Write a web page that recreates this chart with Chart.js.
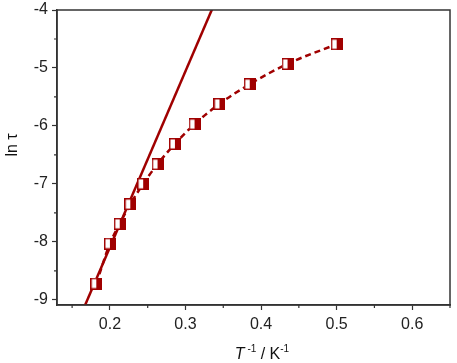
<!DOCTYPE html>
<html>
<head>
<meta charset="utf-8">
<script src="https://cdn.jsdelivr.net/npm/chart.js@4.4.0/dist/chart.umd.min.js"></script>
<style>
  html,body{margin:0;padding:0;background:#fff;}
  #wrap{width:457px;height:363px;}
</style>
</head>
<body>
<div id="wrap"><canvas id="c" width="457" height="363"></canvas></div>
<script>
/* ── data ── */
const invT   = [0.182,0.200,0.213,0.227,0.244,0.263,0.286,0.312,0.345,0.385,0.435,0.500];
const lnTau  = [-8.72,-8.03,-7.69,-7.35,-7.00,-6.66,-6.31,-5.97,-5.62,-5.28,-4.93,-4.59];
const fitX   = [0.160,0.340];
const fitY   = [-9.31,-3.84];
const xTicks = [0.2,0.3,0.4,0.5,0.6];
const xMinor = [0.15,0.25,0.35,0.45,0.55,0.65];
const yTicks = [-9,-8,-7,-6,-5,-4];
const yMinor = [-8.5,-7.5,-6.5,-5.5,-4.5];

const RED='#a00000', AX='#333333', FONT='"Liberation Sans", Arial, sans-serif';

/* half-filled square marker */
function halfSquare(){
  const s=12, cv=document.createElement('canvas');
  cv.width=s;cv.height=s;
  const g=cv.getContext('2d');
  g.fillStyle='#fff';g.fillRect(0,0,s,s);
  g.fillStyle=RED;g.fillRect(s/2,0,s/2,s);
  g.strokeStyle=RED;g.lineWidth=1.5;g.strokeRect(0.75,0.75,s-1.5,s-1.5);
  return cv;
}
const marker=halfSquare();

const pts=invT.map((x,i)=>({x,y:lnTau[i]}));
const fit=fitX.map((x,i)=>({x,y:fitY[i]}));

/* frame, minor ticks, axis titles */
const extras={
  id:'extras',
  afterDraw(chart){
    const {ctx,chartArea:a,scales:{x,y}}=chart;
    ctx.save();
    ctx.strokeStyle=AX;ctx.lineWidth=1.5;
    ctx.strokeRect(a.left,a.top,a.right-a.left,a.bottom-a.top);
    ctx.lineWidth=1.2;
    ctx.beginPath();
    xMinor.forEach(v=>{const p=x.getPixelForValue(v);ctx.moveTo(p,a.bottom);ctx.lineTo(p,a.bottom+3);});
    yMinor.forEach(v=>{const p=y.getPixelForValue(v);ctx.moveTo(a.left,p);ctx.lineTo(a.left-3,p);});
    ctx.stroke();

    ctx.fillStyle='#111';
    ctx.textBaseline='alphabetic';
    // x title: T^-1 / K^-1
    const parts=[
      {t:'T',f:'italic 16px '+FONT,dy:0},
      {t:' -1',f:'10px '+FONT,dy:-7},
      {t:' / K',f:'16px '+FONT,dy:0},
      {t:'-1',f:'10px '+FONT,dy:-7}
    ];
    let w=0;
    parts.forEach(p=>{ctx.font=p.f;p.w=ctx.measureText(p.t).width;w+=p.w;});
    let cx=262-w/2;
    const base=359;
    parts.forEach(p=>{ctx.font=p.f;ctx.fillText(p.t,cx,base+p.dy);cx+=p.w;});

    // y title
    ctx.translate(17,145);
    ctx.rotate(-Math.PI/2);
    ctx.font='16px '+FONT;
    ctx.textAlign='center';
    ctx.fillText('ln τ',0,0);
    ctx.restore();
  }
};

new Chart(document.getElementById('c'),{
  type:'scatter',
  data:{datasets:[
    {label:'data',data:pts,pointStyle:marker,pointRadius:6,pointHoverRadius:6,showLine:false,order:0},
    {label:'fit',data:pts,showLine:true,pointRadius:0,borderColor:RED,borderWidth:2.5,borderDash:[6,4],cubicInterpolationMode:'monotone',order:1},
    {label:'arrhenius',data:fit,showLine:true,pointRadius:0,borderColor:RED,borderWidth:2.5,order:2}
  ]},
  options:{
    responsive:false,animation:false,
    layout:{padding:{top:10,right:4,left:0,bottom:0}},
    plugins:{legend:{display:false},tooltip:{enabled:false}},
    scales:{
      x:{
        type:'linear',min:0.13,max:0.65,
        afterBuildTicks:s=>{s.ticks=xTicks.map(v=>({value:v}));},
        afterFit:s=>{s.height=58;s.paddingLeft=0;s.paddingRight=0;},
        grid:{drawOnChartArea:false,tickLength:5,tickColor:AX,tickWidth:1.2},
        border:{color:AX,width:1.5},
        ticks:{color:'#222',font:{family:FONT,size:16},padding:5,maxRotation:0,callback:v=>v.toFixed(1)}
      },
      y:{
        type:'linear',min:-9.09,max:-4,
        afterBuildTicks:s=>{s.ticks=yTicks.map(v=>({value:v}));},
        afterFit:s=>{s.width=57;s.paddingTop=0;s.paddingBottom=0;},
        grid:{drawOnChartArea:false,tickLength:5,tickColor:AX,tickWidth:1.2},
        border:{color:AX,width:1.5},
        ticks:{color:'#222',font:{family:FONT,size:16},padding:4,callback:v=>String(v)}
      }
    }
  },
  plugins:[extras]
});
</script>
</body>
</html>
